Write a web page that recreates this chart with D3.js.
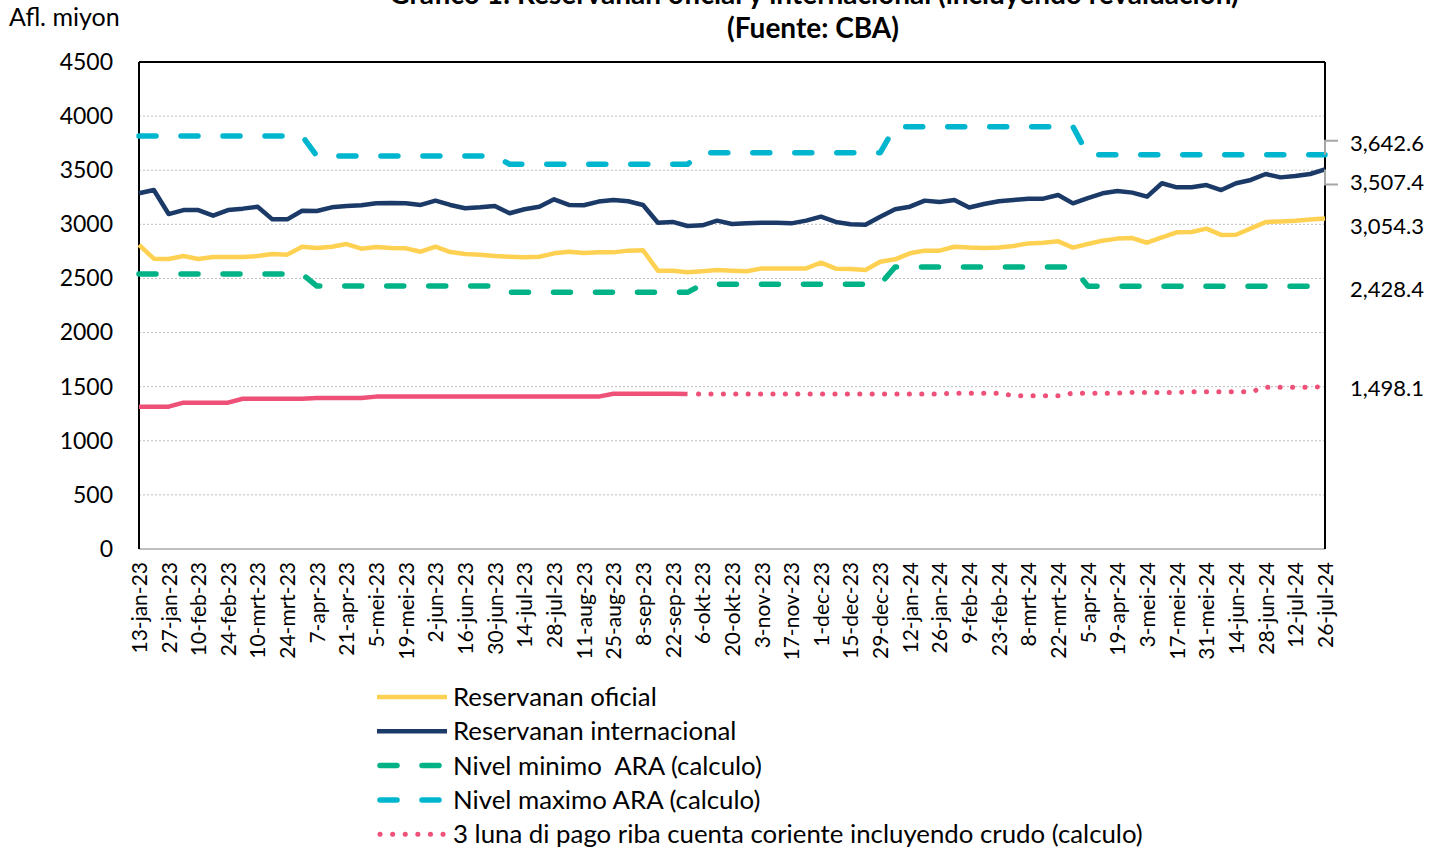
<!DOCTYPE html>
<html>
<head>
<meta charset="utf-8">
<script src="https://cdn.jsdelivr.net/npm/d3@7"></script>
<style>
  body { margin: 0; background: #fff; }
  svg { display: block; }
</style>
</head>
<body>
<div id="chart"></div>
<script>
// tick labels (every second week)
const tickLabels = [
  '13-jan-23', '27-jan-23', '10-feb-23', '24-feb-23', '10-mrt-23', '24-mrt-23', '7-apr-23',
  '21-apr-23', '5-mei-23', '19-mei-23', '2-jun-23', '16-jun-23', '30-jun-23', '14-jul-23',
  '28-jul-23', '11-aug-23', '25-aug-23', '8-sep-23', '22-sep-23', '6-okt-23', '20-okt-23',
  '3-nov-23', '17-nov-23', '1-dec-23', '15-dec-23', '29-dec-23', '12-jan-24', '26-jan-24',
  '9-feb-24', '23-feb-24', '8-mrt-24', '22-mrt-24', '5-apr-24', '19-apr-24', '3-mei-24',
  '17-mei-24', '31-mei-24', '14-jun-24', '28-jun-24', '12-jul-24', '26-jul-24'
];

// weekly series (81 weeks, 13-jan-23 .. 26-jul-24)
const oficial = [
  2810, 2683, 2680, 2707, 2680, 2698, 2698, 2698, 2707, 2726, 2720, 2793, 2781, 2793, 2818, 2775,
  2790, 2781, 2778, 2747, 2793, 2744, 2726, 2720, 2707, 2701, 2695, 2701, 2732, 2747, 2735, 2741,
  2741, 2757, 2760, 2572, 2572, 2557, 2566, 2578, 2572, 2566, 2593, 2593, 2593, 2593, 2646, 2590,
  2587, 2578, 2655, 2677, 2732, 2757, 2757, 2793, 2785, 2781, 2785, 2800, 2824, 2830, 2843, 2785,
  2818, 2849, 2868, 2873, 2830, 2880, 2926, 2929, 2960, 2902, 2904, 2962, 3021, 3027, 3033, 3045,
  3054.3
];
const internacional = [
  3287, 3317, 3095, 3132, 3132, 3080, 3132, 3145, 3163, 3046, 3046, 3126, 3123, 3157, 3170, 3176,
  3194, 3197, 3194, 3179, 3219, 3179, 3148, 3157, 3170, 3102, 3139, 3162, 3231, 3179, 3176, 3210,
  3225, 3213, 3179, 3015, 3022, 2985, 2991, 3034, 3003, 3009, 3015, 3015, 3009, 3034, 3071, 3022,
  3000, 2997, 3071, 3139, 3163, 3219, 3207, 3225, 3155, 3188, 3213, 3225, 3237, 3237, 3271, 3194,
  3243, 3287, 3308, 3293, 3256, 3380, 3342, 3342, 3363, 3317, 3380, 3410, 3465, 3434, 3447, 3465,
  3507.4
];
// quarterly ARA levels, each held for a number of weeks
const quarterWeeks = [12, 13, 13, 13, 13, 17];
const araMinimo = [2541, 2430, 2372, 2446, 2606, 2428.4];
const araMaximo = [3816, 3631, 3555, 3662, 3902, 3642.6];
// 3 months of current account payments; actual up to week 37, projection after
const pago = [
  1315, 1315, 1315, 1352, 1352, 1352, 1352, 1388, 1388, 1388, 1388, 1388, 1395, 1395, 1395, 1395,
  1408, 1408, 1408, 1408, 1408, 1408, 1408, 1408, 1408, 1408, 1408, 1408, 1408, 1408, 1408, 1408,
  1435, 1435, 1435, 1435, 1435, 1432, 1432, 1432, 1432, 1432, 1432, 1432, 1432, 1432, 1432, 1432,
  1432, 1432, 1432, 1432, 1432, 1432, 1432, 1440, 1440, 1440, 1440, 1416, 1416, 1416, 1416, 1440,
  1440, 1440, 1440, 1447, 1447, 1447, 1447, 1452, 1452, 1452, 1452, 1452, 1495, 1495, 1495, 1495,
  1498.1
];
const pagoSplit = 37;
const yTicks = [0, 500, 1000, 1500, 2000, 2500, 3000, 3500, 4000, 4500];

// expand quarterly levels into weekly values
function expand(levels) {
  const out = [];
  levels.forEach((v, i) => { for (let k = 0; k < quarterWeeks[i]; k++) out.push(v); });
  return out;
}
const minimoWeekly = expand(araMinimo);
const maximoWeekly = expand(araMaximo);

const width = 1444, height = 851;
const margin = { top: 62, right: 119, bottom: 302, left: 139 };
const innerWidth = width - margin.left - margin.right;
const innerHeight = height - margin.top - margin.bottom;
const FONT = 'Lato, sans-serif';

const colors = {
  oficial: '#FFD152',
  internacional: '#1B3A67',
  minimo: '#00B386',
  maximo: '#00B5CE',
  pago: '#EF5077'
};

const svg = d3.select('#chart').append('svg')
  .attr('width', width)
  .attr('height', height)
  .attr('font-family', FONT);

const g = svg.append('g').attr('transform', `translate(${margin.left},${margin.top})`);

const x = d3.scaleLinear().domain([0, oficial.length - 1]).range([0, innerWidth]);
const y = d3.scaleLinear().domain([0, 4500]).range([innerHeight, 0]);

// grid lines
g.append('g')
  .selectAll('line')
  .data(yTicks.filter(d => d > 0 && d < 4500))
  .enter().append('line')
  .attr('x1', 0).attr('x2', innerWidth)
  .attr('y1', d => y(d)).attr('y2', d => y(d))
  .attr('stroke', '#bdbdbd')
  .attr('stroke-width', 1)
  .attr('stroke-dasharray', '2,2');

// y axis
const yAxis = g.append('g')
  .call(d3.axisLeft(y).tickValues(yTicks).tickSize(0).tickPadding(26).tickFormat(d3.format('d')))
  .attr('font-size', 23)
  .attr('font-family', FONT);
yAxis.select('.domain').remove();
yAxis.selectAll('text').attr('fill', '#000');

// x axis labels
const xAxis = g.append('g')
  .attr('transform', `translate(0,${innerHeight})`)
  .call(d3.axisBottom(x)
    .tickValues(d3.range(0, oficial.length, 2))
    .tickSize(0)
    .tickFormat(i => tickLabels[i / 2]))
  .attr('font-size', 21)
  .attr('font-family', FONT);
xAxis.select('.domain').remove();
xAxis.selectAll('text')
  .attr('transform', 'rotate(-90)')
  .attr('text-anchor', 'end')
  .attr('x', -13)
  .attr('y', 0)
  .attr('dy', '0.35em')
  .attr('fill', '#000');

// frame
g.append('line').attr('x1', 0).attr('x2', innerWidth).attr('y1', innerHeight).attr('y2', innerHeight)
  .attr('stroke', '#bfbfbf').attr('stroke-width', 2);
g.append('line').attr('x1', 0).attr('x2', innerWidth).attr('y1', 0).attr('y2', 0)
  .attr('stroke', '#000').attr('stroke-width', 2);
g.append('line').attr('x1', 0).attr('x2', 0).attr('y1', 0).attr('y2', innerHeight)
  .attr('stroke', '#000').attr('stroke-width', 2);
g.append('line').attr('x1', innerWidth).attr('x2', innerWidth).attr('y1', 0).attr('y2', innerHeight)
  .attr('stroke', '#000').attr('stroke-width', 2);

const line = d3.line().x(d => x(d[0])).y(d => y(d[1]));
const pts = arr => arr.map((v, i) => [i, v]);

// dashed ARA levels
[[minimoWeekly, colors.minimo], [maximoWeekly, colors.maximo]].forEach(([arr, c]) => {
  g.append('path')
    .datum(pts(arr))
    .attr('d', line)
    .attr('fill', 'none')
    .attr('stroke', c)
    .attr('stroke-width', 5.5)
    .attr('stroke-linecap', 'round')
    .attr('stroke-linejoin', 'round')
    .attr('stroke-dasharray', '17,25');
});

// pago: solid actual + dotted projection
const pagoPts = pts(pago);
g.append('path')
  .datum(pagoPts.slice(0, pagoSplit + 1))
  .attr('d', line)
  .attr('fill', 'none')
  .attr('stroke', colors.pago)
  .attr('stroke-width', 4.5)
  .attr('stroke-linejoin', 'round');
g.append('path')
  .datum(pagoPts.slice(pagoSplit))
  .attr('d', line)
  .attr('fill', 'none')
  .attr('stroke', colors.pago)
  .attr('stroke-width', 5)
  .attr('stroke-linecap', 'round')
  .attr('stroke-dasharray', '0.1,12.3')
  .attr('stroke-dashoffset', -11);

// solid reserve lines
[[oficial, colors.oficial], [internacional, colors.internacional]].forEach(([arr, c]) => {
  g.append('path')
    .datum(pts(arr))
    .attr('d', line)
    .attr('fill', 'none')
    .attr('stroke', c)
    .attr('stroke-width', 4.5)
    .attr('stroke-linejoin', 'round');
});

// end value labels
const last = oficial.length - 1;
const endLabels = [
  { v: maximoWeekly[last], dy: -12, leader: -1 },
  { v: internacional[last], dy: 13, leader: 1 },
  { v: oficial[last], dy: 8, leader: 0 },
  { v: minimoWeekly[last], dy: 3, leader: 0 },
  { v: pago[last], dy: 1, leader: 0 }
];
const fmt = d3.format(',.1f');
endLabels.forEach(d => {
  const yy = y(d.v);
  if (d.leader !== 0) {
    const ly = yy + d.dy + 2 * d.leader;
    g.append('path')
      .attr('d', `M${innerWidth},${yy}V${ly}H${innerWidth + 13}`)
      .attr('fill', 'none')
      .attr('stroke', '#a6a6a6')
      .attr('stroke-width', 2);
  }
  g.append('text')
    .attr('x', innerWidth + 25)
    .attr('y', yy + d.dy + 8)
    .attr('font-size', 22)
    .text(fmt(d.v));
});

// titles
svg.append('text')
  .attr('x', 814).attr('y', 4)
  .attr('text-anchor', 'middle')
  .attr('font-size', 28)
  .attr('font-weight', 'bold')
  .text('Grafico 1: Reservanan oficial y internacional (incluyendo revaluacion)');
svg.append('text')
  .attr('x', 813).attr('y', 38)
  .attr('text-anchor', 'middle')
  .attr('font-size', 28)
  .attr('font-weight', 'bold')
  .text('(Fuente: CBA)');
svg.append('text')
  .attr('x', 9).attr('y', 26)
  .attr('font-size', 25)
  .text('Afl. miyon');

// legend
const legendItems = [
  { label: 'Reservanan oficial', color: colors.oficial, dash: null, w: 4.5, cap: 'butt' },
  { label: 'Reservanan internacional', color: colors.internacional, dash: null, w: 4.5, cap: 'butt' },
  { label: 'Nivel minimo\u00a0 ARA (calculo)', color: colors.minimo, dash: '17,25', w: 5.5, cap: 'round' },
  { label: 'Nivel maximo ARA (calculo)', color: colors.maximo, dash: '17,25', w: 5.5, cap: 'round' },
  { label: '3 luna di pago riba cuenta coriente incluyendo crudo (calculo)', color: colors.pago, dash: '0.1,12.5', w: 5, cap: 'round' }
];
const legend = svg.append('g').attr('transform', 'translate(377,697)');
legendItems.forEach((d, i) => {
  const row = legend.append('g').attr('transform', `translate(0,${i * 34.3})`);
  row.append('line')
    .attr('x1', d.cap === 'round' ? 3 : 0).attr('x2', 70)
    .attr('y1', 0).attr('y2', 0)
    .attr('stroke', d.color)
    .attr('stroke-width', d.w)
    .attr('stroke-linecap', d.cap)
    .attr('stroke-dasharray', d.dash);
  row.append('text')
    .attr('x', 76).attr('y', 9)
    .attr('font-size', 25.8)
    .text(d.label);
});
</script>
</body>
</html>
